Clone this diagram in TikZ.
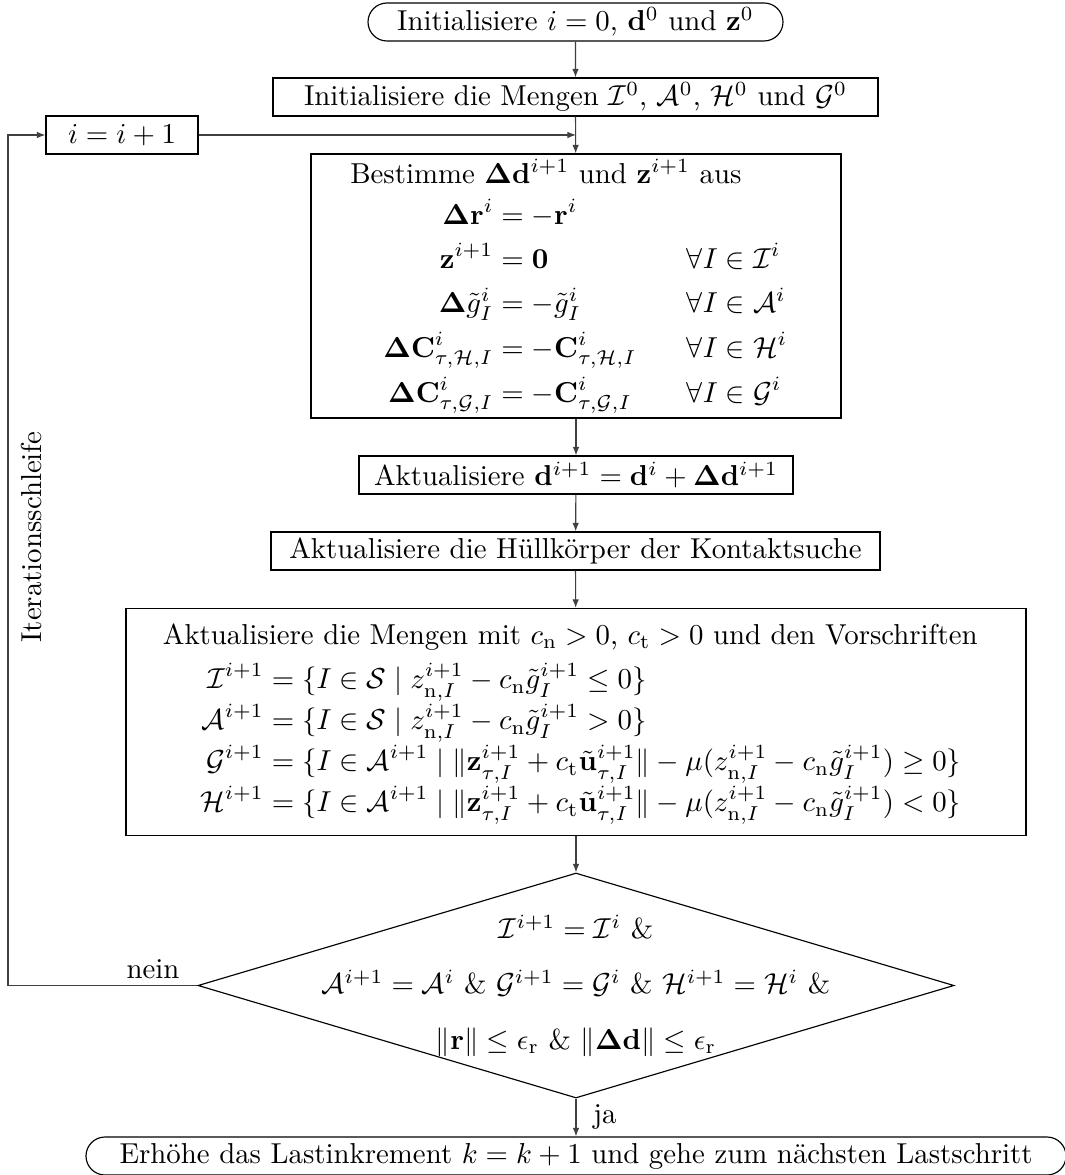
\documentclass[tikz,border=0pt]{standalone}
\usepackage{amsmath,amssymb}
\usetikzlibrary{shapes.misc,shapes.geometric,arrows.meta}
\newcommand\pxu[1]{#1*0.347pt}
\begin{document}
\begin{tikzpicture}[x=0.347pt,y=-0.347pt,
  box/.style={draw=black, rectangle, inner sep=0pt},
  term/.style={draw=black, rounded rectangle, inner sep=0pt},
  conn/.style={draw=black!75, -{Latex[length=3pt,width=2.3pt]}}]
\useasboundingbox (0,0) rectangle (1065,1175);

\node[term, minimum width=\pxu{415}, minimum height=\pxu{38}] (start) at (575.5,22)
  {Initialisiere $i=0$, $\mathbf d^0$ und $\mathbf z^0$};
\node[box, minimum width=\pxu{605}, minimum height=\pxu{38}] (init) at (575.5,97)
  {Initialisiere die Mengen $\mathcal I^0$, $\mathcal A^0$, $\mathcal H^0$ und $\mathcal G^0$};
\node[box, minimum width=\pxu{152}, minimum height=\pxu{38}] (inc) at (122,135) {$i=i+1$};
\node[box, minimum width=\pxu{530}, minimum height=\pxu{264}] (best) at (576,286)
  {\begin{tabular}{@{\hspace{5pt}}l@{}}
   Bestimme $\boldsymbol\Delta\mathbf d^{i+1}$ und $\mathbf z^{i+1}$ aus\\[2pt]
   \hspace{11.5pt}$\begin{aligned}
   \boldsymbol\Delta\mathbf r^i &= -\mathbf r^i\\
   \mathbf z^{i+1} &= \mathbf 0 &&\hspace{7.5pt} \forall I\in\mathcal I^i\\
   \boldsymbol\Delta\tilde g_I^i &= -\tilde g_I^i &&\hspace{7.5pt} \forall I\in\mathcal A^i\\
   \boldsymbol\Delta\mathbf C^i_{\tau,\mathcal H,I} &= -\mathbf C^i_{\tau,\mathcal H,I} &&\hspace{7.5pt} \forall I\in\mathcal H^i\\
   \boldsymbol\Delta\mathbf C^i_{\tau,\mathcal G,I} &= -\mathbf C^i_{\tau,\mathcal G,I} &&\hspace{7.5pt} \forall I\in\mathcal G^i
   \end{aligned}$
   \end{tabular}};
\node[box, minimum width=\pxu{434}, minimum height=\pxu{38}] (updd) at (576,475)
  {Aktualisiere $\mathbf d^{i+1}=\mathbf d^i+\boldsymbol\Delta\mathbf d^{i+1}$};
\node[box, minimum width=\pxu{609}, minimum height=\pxu{38}] (hull) at (575.5,551)
  {Aktualisiere die Hüllkörper der Kontaktsuche};
\node[box, minimum width=\pxu{900}, minimum height=\pxu{227}] (meng) at (576,722)
  {\begin{tabular}{@{}l@{\hspace{4pt}}}
   Aktualisiere die Mengen mit $c_\mathrm n>0$, $c_\mathrm t>0$ und den Vorschriften\\[3pt]
   \hspace{13pt}{\setlength\jot{1pt}$\begin{aligned}
   \mathcal I^{i+1} &= \{I\in\mathcal S\mid z^{i+1}_{\mathrm n,I}-c_\mathrm n\tilde g_I^{i+1}\le 0\}\\
   \mathcal A^{i+1} &= \{I\in\mathcal S\mid z^{i+1}_{\mathrm n,I}-c_\mathrm n\tilde g_I^{i+1}> 0\}\\
   \mathcal G^{i+1} &= \{I\in\mathcal A^{i+1}\mid \|\mathbf z^{i+1}_{\tau,I}+c_\mathrm t\tilde{\mathbf u}^{i+1}_{\tau,I}\|-\mu(z^{i+1}_{\mathrm n,I}-c_\mathrm n\tilde g_I^{i+1})\ge 0\}\\
   \mathcal H^{i+1} &= \{I\in\mathcal A^{i+1}\mid \|\mathbf z^{i+1}_{\tau,I}+c_\mathrm t\tilde{\mathbf u}^{i+1}_{\tau,I}\|-\mu(z^{i+1}_{\mathrm n,I}-c_\mathrm n\tilde g_I^{i+1})< 0\}
   \end{aligned}$}
   \end{tabular}};
\node[draw=black, diamond, minimum width=\pxu{756}, minimum height=\pxu{225}, inner sep=0pt] (dec) at (576,985.5) {};
\node[align=center, inner sep=0pt] (dectext) at (576,985.5)
  {$\mathcal I^{i+1}=\mathcal I^i$ \&\\[7.2pt]
   $\mathcal A^{i+1}=\mathcal A^i$ \& $\mathcal G^{i+1}=\mathcal G^i$ \& $\mathcal H^{i+1}=\mathcal H^i$ \&\\[7.2pt]
   $\|\mathbf r\|\le\epsilon_\mathrm r$ \& $\|\boldsymbol\Delta\mathbf d\|\le\epsilon_\mathrm r$};
\node[term, minimum width=\pxu{980}, minimum height=\pxu{38}] (end) at (576,1156)
  {Erhöhe das Lastinkrement $k=k+1$ und gehe zum nächsten Lastschritt};

\coordinate (join) at (576,135);
\coordinate (loopc) at (8,985.5);
\draw[conn] (start) -- (init);
\draw[conn] (init) -- (best);
\draw[conn] (inc.east) -- (join);
\draw[conn] (best) -- (updd);
\draw[conn] (updd) -- (hull);
\draw[conn] (hull) -- (meng);
\draw[conn] (meng) -- (dec);
\draw[conn] (dec.south) -- (end.north);
\draw[conn] (dec.west) -- (loopc) |- (inc.west);

\node (nein) at (153,969) {nein};
\node (ja) at (605,1117) {ja};
\node[rotate=90] (iter) at (31,537) {Iterationsschleife};
\end{tikzpicture}
\end{document}
